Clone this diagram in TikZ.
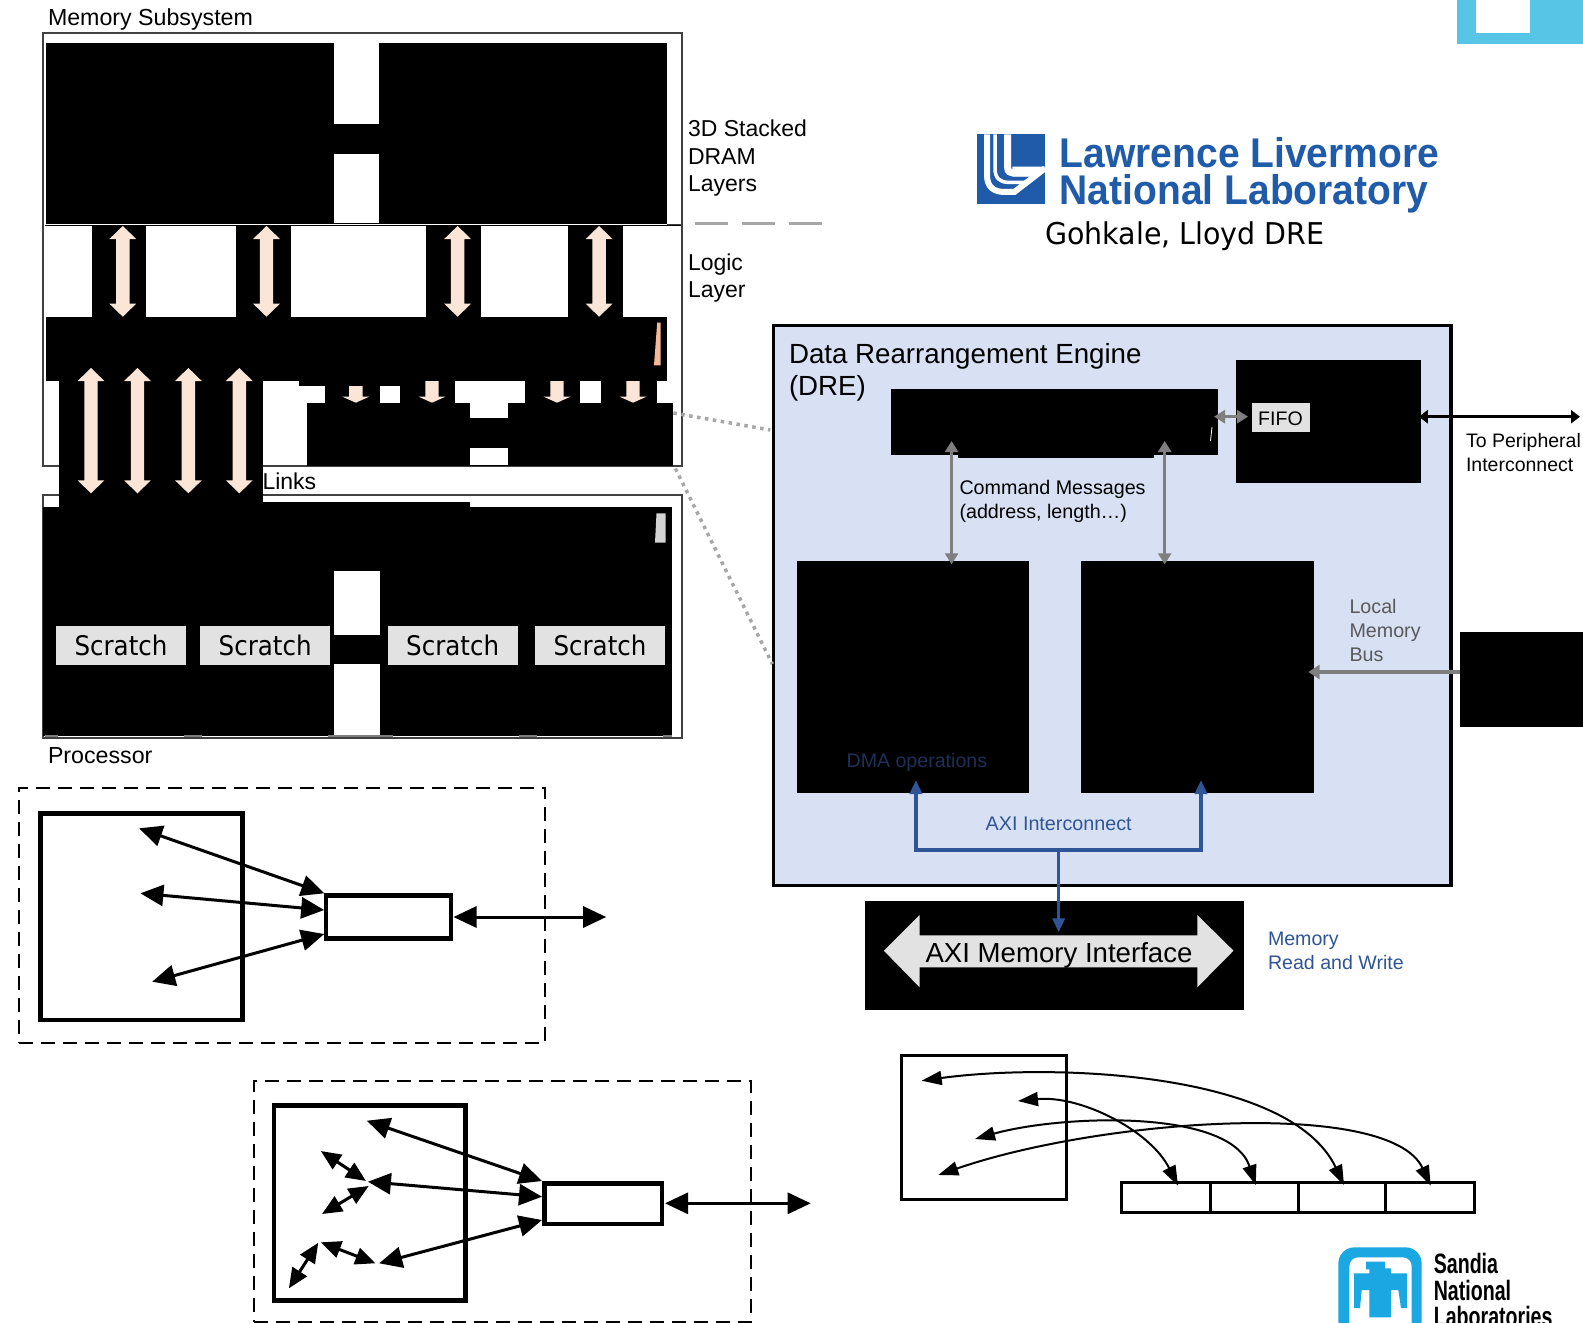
\documentclass[tikz,border=0pt]{standalone}
\usepackage{fontspec}
\usetikzlibrary{arrows.meta,calc}
\setmainfont{Liberation Sans}
\newfontfamily\verafont[FakeStretch=0.91]{DejaVu Sans}
\newfontfamily\verawide[FakeStretch=0.95]{DejaVu Sans}
\definecolor{peach}{HTML}{FBE5D6}
\definecolor{peachd}{HTML}{F4B996}
\definecolor{dreblue}{HTML}{D7E1F3}
\definecolor{axiblue}{HTML}{2F5597}
\definecolor{navy}{HTML}{1F2F58}
\definecolor{arrgray}{HTML}{7F7F7F}
\definecolor{dashgray}{HTML}{A6A6A6}
\definecolor{lightg}{HTML}{E2E2E2}
\definecolor{boxline}{HTML}{404040}
\definecolor{cyanbar}{HTML}{57C5E5}
\definecolor{llnl}{HTML}{1F5BA8}
\definecolor{sandia}{HTML}{1BA7E1}
\tikzset{
  x=1pt,y=-1pt,
  rectn/.style={rectangle,inner sep=0pt,outer sep=0pt},
  blk/.style={rectn,fill=black},
  wht/.style={rectn,fill=white},
  lbl/.style={inner sep=0pt,outer sep=0pt,anchor=west,align=left},
  thickbox/.style={rectn,draw=black,line width=4.5pt,fill=none},
  thinbox/.style={rectn,draw=boxline,line width=2pt,fill=none},
  dashbox/.style={rectn,draw=black,line width=2pt,dash pattern=on 14pt off 8pt},
  bigdbl/.style={{Triangle[length=23pt,width=21pt]}-{Triangle[length=23pt,width=21pt]},line width=3pt,black},
  smalldbl/.style={{Triangle[length=20pt,width=17pt]}-{Triangle[length=20pt,width=17pt]},line width=3pt,black},
  curvedbl/.style={{Triangle[length=20pt,width=14pt]}-{Triangle[length=20pt,width=14pt]},line width=2pt,black},
  graydbl/.style={{Triangle[length=11pt,width=13pt]}-{Triangle[length=11pt,width=13pt]},line width=3.5pt,arrgray},
  blueone/.style={-{Triangle[length=14pt,width=12pt]},line width=3.5pt,axiblue},
}
\newcommand\rn[6][]{%
  \pgfmathsetmacro\cxv{(#3+#5)/2}\pgfmathsetmacro\cyv{(#4+#6)/2}%
  \pgfmathsetmacro\wv{#5-#3}\pgfmathsetmacro\hv{#6-#4}%
  \node[rectn,#1,minimum width=\wv pt,minimum height=\hv pt] (#2) at (\cxv,\cyv) {};}
% vertical block double arrow: x centre, top, bottom
\newcommand\vdbl[3]{%
  \fill[peach] (#1,#2) -- ({#1+13.4},{#2+13}) -- ({#1+6.7},{#2+13}) -- ({#1+6.7},{#3-13}) -- ({#1+13.4},{#3-13})
    -- (#1,#3) -- ({#1-13.4},{#3-13}) -- ({#1-6.7},{#3-13}) -- ({#1-6.7},{#2+13}) -- ({#1-13.4},{#2+13}) -- cycle;}
% small down block arrow
\newcommand\vdown[3]{%
  \fill[peach] ({#1-6.7},#2) -- ({#1+6.7},#2) -- ({#1+6.7},{#3-6}) -- ({#1+13.4},{#3-6}) -- (#1,#3)
    -- ({#1-13.4},{#3-6}) -- ({#1-6.7},{#3-6}) -- cycle;}
\begin{document}
\begin{tikzpicture}
\useasboundingbox (0,0) rectangle (1583,1323);
\clip (0,0) rectangle (1583,1323);
\fill[white] (0,0) rectangle (1583,1323);

% ---- memory subsystem frame
\rn[thinbox]{membox}{43.3}{33.3}{681.7}{466}
\rn[thinbox]{procbox}{43.3}{495}{681.7}{737.5}
\node[lbl,font=\fontsize{23.2}{28}\selectfont] (lmem) at (48,19.5) {Memory Subsystem};

% DRAM layers
\rn[blk]{dram}{45.5}{43.3}{667.4}{224}
\rn[wht]{dgapa}{334.4}{43.3}{378.6}{124}
\rn[wht]{dgapb}{334.4}{153.7}{378.6}{223.3}
\draw[boxline,line width=1pt] (667.4,224) -- (681.7,224);
% logic layer
\rn[blk]{logic}{44.6}{225}{681}{316.7}
\rn[wht]{la}{44.6}{225.7}{91.5}{316.7}
\rn[wht]{lb}{146.4}{225.7}{235.7}{316.7}
\rn[wht]{lc}{290.6}{225.7}{425.9}{316.7}
\rn[wht]{ld}{481.3}{225.7}{567.9}{316.7}
\rn[wht]{le}{622.8}{225.7}{680.8}{316.7}
\vdbl{122.8}{226}{316.7}
\vdbl{266.5}{226}{316.7}
\vdbl{457.6}{226}{316.7}
\vdbl{599.1}{226}{316.7}
% band
\rn[blk]{band}{45.5}{316.7}{667.4}{381}
\fill[peachd] (657.2,322.7) -- (660.7,322.7) -- (660.7,365.3) -- (654,365.3) -- cycle;
% lower memory
\rn[blk]{lowa}{299}{381}{656.7}{402.7}
\rn[blk]{lowb}{306.7}{402.7}{672.8}{466}
\rn[wht]{wa}{379.5}{386}{400.4}{402.7}
\rn[wht]{wb}{455.4}{381}{525.4}{402.7}
\rn[wht]{wc}{470}{402.7}{507.6}{418.3}
\rn[wht]{wd}{470}{448}{507.6}{464.7}
\rn[wht]{we}{580.4}{381}{601.3}{402.7}
\rn[wht]{wf}{299}{386}{324.6}{402.7}
\vdown{355.8}{386}{402.7}
\vdown{432}{381}{402.7}
\vdown{557}{381}{402.7}
\vdown{633}{381}{402.7}

% processor
\rn[blk]{proc}{43.3}{507.3}{671.9}{736}
\rn[blk]{proctop}{59.4}{502.3}{470}{507.3}
\rn[blk]{links}{59.4}{381}{263}{507.7}
\vdbl{91}{368}{493.3}
\vdbl{137.5}{368}{493.3}
\vdbl{188.4}{368}{493.3}
\vdbl{239.3}{368}{493.3}
\fill[lightg!85!gray] (656.5,513.3) -- (665.6,513.3) -- (665.6,542.7) -- (655,542.7) -- cycle;
\rn[wht]{pgapa}{334.4}{571}{380}{634.7}
\rn[wht]{pgapb}{334.4}{664.3}{380}{736}
\foreach \nm/\a/\b in {sa/55.8/186.2,sb/200/330.4,sc/387.5/517.9,sd/534.8/665.2}{
  \rn[rectn,fill=lightg]{\nm}{\a}{626}{\b}{665.3}
  \node[inner sep=0pt,font=\verafont\fontsize{27}{30}\selectfont] (t\nm) at (\nm.center) {Scratch};
}
\foreach \nm/\a/\b in {ga/44.6/58,gb/184/202,gc/328/393,gd/519/537,ge/663/672}{
  \rn[rectn,fill=arrgray]{\nm}{\a}{735.3}{\b}{737}
}
\node[lbl,font=\fontsize{23.2}{28}\selectfont] (lproc) at (48,755.5) {Processor};
\node[lbl,font=\fontsize{23}{28}\selectfont] (llinks) at (262.5,481) {Links};

% side labels
\node[lbl,font=\fontsize{23}{27.5}\selectfont] (ldram) at (688,158.5) {3D Stacked\\DRAM\\Layers};
\node[lbl,font=\fontsize{23}{27.5}\selectfont] (llogic) at (688,278) {Logic\\Layer};
\coordinate (dsa) at (695,223); \coordinate (dsb) at (822,223);
\draw[dashgray,line width=3pt,dash pattern=on 33pt off 14pt] (dsa) -- (dsb);

% dotted leaders
\coordinate (doa) at (673.4,413); \coordinate (dob) at (770.3,430);
\coordinate (doc) at (675.4,468.5); \coordinate (dod) at (772.3,664);

% ---- DRE
\rn[rectn,draw=black,line width=3.5pt,fill=dreblue]{dre}{773.6}{325.7}{1450.8}{885.7}
\draw[dashgray,line width=3.5pt,dash pattern=on 3.5pt off 4.5pt] (doa) -- (dob);
\draw[dashgray,line width=3.5pt,dash pattern=on 3.5pt off 4.5pt] (doc) -- (dod);
\node[lbl,font=\fontsize{27.7}{32}\selectfont] (ldre) at (789,372) {Data Rearrangement Engine\\(DRE)};
\rn[blk]{ctrl}{891.2}{389.3}{1218.3}{455.3}
\rn[blk]{ctrlb}{958.4}{455}{1153.7}{458}
\draw[white,line width=.8pt] (1212,427) -- (1210.5,441);
\rn[blk]{fifobk}{1236}{360}{1420.9}{483}
\rn[rectn,fill=lightg]{fifo}{1252.4}{403}{1310}{432.3}
\node[inner sep=0pt,font=\fontsize{19.6}{22}\selectfont] (tfifo) at (1280.5,418.5) {FIFO};
\rn[blk]{dma}{796.7}{561.3}{1029.3}{793.3}
\rn[blk]{dmb}{1081.3}{561.3}{1313.8}{793.3}
\rn[blk]{dmbx}{1080.7}{646.7}{1314.3}{713.3}
\rn[blk]{local}{1459.7}{632.3}{1583}{727.3}
\rn[blk]{axibk}{865}{900.7}{1243.5}{1010.3}

\coordinate (ga1) at (951.6,441); \coordinate (ga2) at (951.6,564.3);
\coordinate (gb1) at (1164.7,441); \coordinate (gb2) at (1164.7,564.3);
\coordinate (gc1) at (1214,416.7); \coordinate (gc2) at (1248,416.7);
\draw[graydbl] (ga1) -- (ga2);
\draw[graydbl] (gb1) -- (gb2);
\draw[graydbl] (gc1) -- (gc2);
\coordinate (pa) at (1418.8,416.7); \coordinate (pb) at (1580,416.7);
\draw[{Triangle[length=9pt,width=13pt]}-{Triangle[length=9pt,width=13pt]},line width=3.5pt] (pa) -- (pb);
\coordinate (lb1) at (1459.7,672); \coordinate (lb2) at (1308.5,672);
\draw[-{Triangle[length=11pt,width=14pt]},line width=4pt,arrgray] (lb1) -- (lb2);

\node[lbl,font=\fontsize{19.7}{24}\selectfont] (lcmd) at (959.5,501.5) {Command Messages\\(address, length\ldots)};
\node[lbl,font=\fontsize{19.5}{24}\selectfont] (lper) at (1466,453) {To Peripheral\\Interconnect};
\node[lbl,font=\fontsize{19.7}{23.6}\selectfont,text=black!65] (lloc) at (1349.5,630.5) {Local\\Memory\\Bus};
\node[lbl,font=\fontsize{19.6}{24}\selectfont,text=navy] (ldma) at (846.6,762) {DMA operations};
\node[inner sep=0pt,font=\fontsize{19.75}{24}\selectfont,text=axiblue] (laxi) at (1058.7,823.7) {AXI Interconnect};
\node[lbl,font=\fontsize{19.6}{23.4}\selectfont,text=axiblue] (lrw) at (1268,951) {Memory\\Read and Write};

% AXI block arrow
\fill[lightg] (883.9,950.7) -- (919.6,915) -- (919.6,935.3) -- (1197.3,935.3) -- (1197.3,915) -- (1233.5,950.7)
  -- (1197.3,987.3) -- (1197.3,967.3) -- (919.6,967.3) -- (919.6,987.3) -- cycle;
\node[inner sep=0pt,font=\fontsize{27.6}{30}\selectfont] (taxi) at (1059,955) {AXI Memory Interface};

\coordinate (bl) at (915.9,780); \coordinate (br) at (1201,780);
\coordinate (bj) at (1058.7,850); \coordinate (bt) at (1058.7,932.3);
\draw[blueone,line join=miter] (bj) -- (bj-|bl) -- (bl);
\draw[blueone,line join=miter] (bj) -- (bj-|br) -- (br);
\draw[blueone] (bj) -- (bt);

% ---- cyan corner
\rn[rectn,fill=cyanbar]{cbar}{1457}{0}{1583}{44}
\rn[wht]{cwin}{1476}{0}{1530}{33.3}

% ---- LLNL logo
\begin{scope}[shift={(970,125)},x=0.3333pt,y=-0.3333pt]
  \fill[llnl] (22,28) rectangle (225,238);
  \draw[white,line width=6pt] (51,28) -- (51,150) .. controls (51,185) and (70,201) .. (105,201) -- (133,201) -- (225,130);
  \draw[white,line width=3.5pt] (75,28) -- (75,130) .. controls (75,160) and (90,172) .. (115,172) -- (170,172) -- (225,130);
  \draw[white,line width=7pt] (113,28) -- (113,128) .. controls (113,140) and (120,144) .. (135,144) -- (195,144);
  \fill[white] (127,125) -- (225,125) -- (190,155) -- (127,155) -- cycle;
\end{scope}
\node[lbl,font=\fontsize{41.5}{37}\selectfont\bfseries,text=llnl,xscale=.94,transform shape,anchor=base west] (llab) at (1059.8,167) {Lawrence Livermore};
\node[lbl,font=\fontsize{41.5}{37}\selectfont\bfseries,text=llnl,xscale=.94,transform shape,anchor=base west] (llabb) at (1059.8,204) {National Laboratory};
\node[lbl,font=\verawide\fontsize{30}{34}\selectfont] (lgok) at (1045,236.5) {Gohkale, Lloyd DRE};

% ---- first diagram
\rn[dashbox]{dasha}{19}{787.7}{544.9}{1043.3}
\rn[thickbox]{pa1}{40.3}{813.3}{242.4}{1020}
\rn[thickbox]{ra1}{326.2}{895.7}{450.8}{938.7}
\coordinate (a1) at (139.2,828.3); \coordinate (a2) at (140.4,893.3); \coordinate (a3) at (152.2,981.7);
\coordinate (a4) at (324.2,893.3); \coordinate (a5) at (324.2,910); \coordinate (a6) at (324.2,934);
\coordinate (a7) at (453.5,917); \coordinate (a8) at (606.2,917);
\draw[bigdbl] (a1) -- (a4);
\draw[bigdbl] (a2) -- (a5);
\draw[bigdbl] (a3) -- (a6);
\draw[bigdbl] (a7) -- (a8);

% ---- second diagram
\rn[dashbox]{dashb}{254}{1081}{751}{1321.7}
\rn[thickbox]{pb1}{273.9}{1105.7}{465.7}{1300.7}
\rn[thickbox]{rb1}{544.7}{1183.3}{662}{1224}
\coordinate (b1) at (366.8,1120.7); \coordinate (b2) at (367.9,1181.7); \coordinate (b3) at (379.2,1263.3);
\coordinate (b4) at (542,1181); \coordinate (b5) at (542,1196.7); \coordinate (b6) at (542,1220);
\coordinate (b7) at (665,1203.3); \coordinate (b8) at (810.7,1203.3);
\draw[bigdbl] (b1) -- (b4);
\draw[bigdbl] (b2) -- (b5);
\draw[bigdbl] (b3) -- (b6);
\draw[bigdbl] (b7) -- (b8);
\coordinate (c1) at (320.9,1151); \coordinate (c2) at (366,1181);
\coordinate (c3) at (322,1214); \coordinate (c4) at (368.7,1186);
\coordinate (c5) at (320.9,1242.3); \coordinate (c6) at (375.4,1263.3);
\coordinate (c7) at (318.3,1242.7); \coordinate (c8) at (288.9,1288.3);
\draw[smalldbl] (c1) -- (c2);
\draw[smalldbl] (c3) -- (c4);
\draw[smalldbl] (c5) -- (c6);
\draw[smalldbl] (c7) -- (c8);

% ---- third diagram
\rn[rectn,draw=black,line width=3pt]{pc1}{901.5}{1055}{1066}{1199}
\rn[rectn,draw=black,line width=3pt]{ma}{1121.3}{1182.3}{1210}{1212.3}
\rn[rectn,draw=black,line width=3pt]{mb}{1210}{1182.3}{1298}{1212.3}
\rn[rectn,draw=black,line width=3pt]{mc}{1298}{1182.3}{1385.8}{1212.3}
\rn[rectn,draw=black,line width=3pt]{md}{1385.8}{1182.3}{1474}{1212.3}
\coordinate (ea) at (921.7,1080.7); \coordinate (fa) at (1344,1185);
\coordinate (eb) at (1018,1101);    \coordinate (fb) at (1178,1185.7);
\coordinate (ec) at (975,1139);     \coordinate (fc) at (1255.8,1185);
\coordinate (ed) at (938.3,1175);   \coordinate (fd) at (1430.7,1185.7);
\draw[curvedbl] (ea) .. controls (1050,1063) and (1290,1071) .. (fa);
\draw[curvedbl] (eb) .. controls (1080,1095) and (1150,1130) .. (fb);
\draw[curvedbl] (ec) .. controls (1060,1115) and (1230,1108) .. (fc);
\draw[curvedbl] (ed) .. controls (1100,1119) and (1390,1098) .. (fd);

% ---- Sandia logo
\begin{scope}[shift={(1330,1240)},x=0.3333pt,y=-0.3333pt]
  \fill[sandia,rounded corners=16pt] (25,22) rectangle (275,290);
  \fill[white,rounded corners=9pt] (58,52) rectangle (245,280);
  \fill[sandia] (108,65) -- (165,65) -- (165,85) -- (183,85) -- (183,100) -- (231,100) -- (231,204) -- (213,204) -- (205,150)
    -- (183,150) -- (183,232) -- (118,232) -- (118,150) -- (95,150) -- (90,204) -- (72,204) -- (72,100) -- (118,100) -- (118,88) -- (108,88) -- cycle;
\end{scope}
\foreach \nm/\yy/\tt in {sna/1263/Sandia,snb/1290/National,snc/1316/Laboratories}{
  \node[lbl,font=\fontsize{28}{30}\selectfont\bfseries,xscale=.70,transform shape] (\nm) at (1433.8,\yy) {\tt};
}
\end{tikzpicture}
\end{document}
